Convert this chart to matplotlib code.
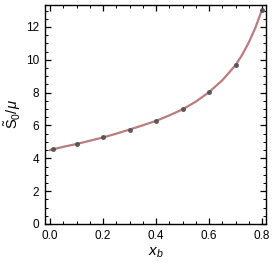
import matplotlib
matplotlib.use('Agg')
from matplotlib import pyplot as plt
from matplotlib.ticker import MultipleLocator, FormatStrFormatter

# data points (markers)
xb = [0.01, 0.1, 0.2, 0.3, 0.4, 0.5, 0.6, 0.7, 0.8]
s0 = [4.55, 4.87, 5.27, 5.74, 6.27, 6.99, 8.04, 9.67, 13.05]

# smooth curve
curve_x = [0.0, 0.05, 0.1, 0.15, 0.2, 0.25, 0.3, 0.35, 0.4, 0.45, 0.5,
           0.55, 0.6, 0.65, 0.7, 0.725, 0.75, 0.775, 0.8]
curve_y = [4.50, 4.70, 4.87, 5.07, 5.27, 5.50, 5.75, 6.01, 6.28, 6.61, 6.98,
           7.45, 8.03, 8.75, 9.67, 10.30, 11.05, 11.95, 13.05]

plt.rcParams['font.family'] = ['Liberation Sans', 'DejaVu Sans']
plt.rcParams['mathtext.fontset'] = 'custom'
plt.rcParams['mathtext.rm'] = 'Liberation Sans'
plt.rcParams['mathtext.it'] = 'Liberation Sans:italic'

fig = plt.figure(figsize=(2.72, 2.66), dpi=100)
ax = fig.add_axes([0.1654, 0.158, 0.8125, 0.824])

ax.plot(curve_x, curve_y, color='#b36e6e', lw=1.6, alpha=0.9, zorder=2)
ax.plot(xb, s0, 'o', color='#505050', ms=2.6, alpha=0.85, zorder=3)

ax.set_xlim(-0.019, 0.815)
ax.set_ylim(0, 13.35)
ax.xaxis.set_major_locator(MultipleLocator(0.2))
ax.xaxis.set_minor_locator(MultipleLocator(0.05))
ax.yaxis.set_major_locator(MultipleLocator(2))
ax.yaxis.set_minor_locator(MultipleLocator(0.5))
ax.xaxis.set_major_formatter(FormatStrFormatter('%.1f'))

ax.tick_params(which='both', direction='in', top=True, right=True,
               labelsize=8.5, pad=4)
ax.tick_params(which='major', length=4, width=0.9)
ax.tick_params(which='minor', length=2, width=0.7)
for sp in ax.spines.values():
    sp.set_linewidth(1.0)

ax.set_xlabel(r'$x_b$', fontsize=11, labelpad=3)
ax.set_ylabel(r'$\tilde{\mathrm{S}}_0/\mu$', fontsize=10.5, labelpad=2)

fig.savefig('out.png', dpi=100)
